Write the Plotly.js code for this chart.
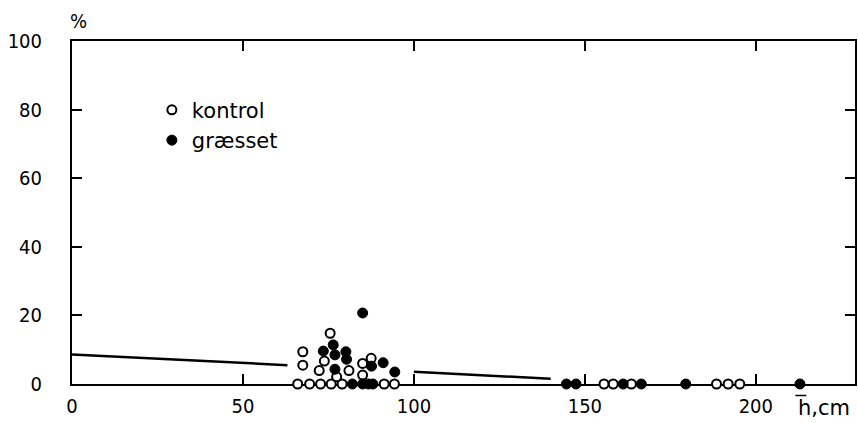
<!DOCTYPE html>
<html>
<head>
<meta charset="utf-8">
<script src="https://cdn.plot.ly/plotly-3.0.1.min.js"></script>
<style>html,body{margin:0;padding:0;background:#fff;}#chart{width:858px;height:423px;}</style>
</head>
<body>
<div id="chart"></div>
<script>
// kontrol (open circles)
const kontrolX = [66, 69.5, 72.7, 75.8, 79, 91.3, 94.3, 67.5, 67.5, 73.8, 72.3, 75.5, 77.4, 81, 85, 85, 87.5, 155.6, 158.3, 163.6, 188.5, 191.9, 195.3];
const kontrolY = [0, 0, 0, 0, 0, 0, 0, 9.4, 5.5, 6.7, 3.9, 14.8, 2.1, 3.9, 6, 2.6, 7.5, 0, 0, 0, 0, 0, 0];
// græsset (filled circles)
const graessetX = [82, 85, 86.7, 88, 85, 73.5, 76.4, 76.9, 80.1, 80.3, 76.9, 87.6, 91, 94.4, 144.6, 147.4, 161.2, 166.5, 179.5, 212.9];
const graessetY = [0, 0, 0, 0, 20.7, 9.6, 11.4, 8.5, 9.4, 7.2, 4.3, 5.2, 6.2, 3.5, 0, 0, 0, 0, 0, 0];
// regression line (drawn in two pieces, interrupted by the point cloud)
const lineX = [0, 63, null, 100, 140];
const lineY = [8.6, 5.5, null, 3.6, 1.5];
const xTicks = [0, 50, 100, 150, 200];
const yTicks = [0, 20, 40, 60, 80, 100];
const legendNames = ['kontrol', 'græsset'];

const tickFont = {family: 'DejaVu Sans Condensed, DejaVu Sans', size: 20, color: '#000'};

const traces = [
  {x: lineX, y: lineY, mode: 'lines', line: {color: '#000', width: 2.5}, showlegend: false, hoverinfo: 'skip'},
  {x: kontrolX, y: kontrolY, mode: 'markers', name: legendNames[0], cliponaxis: false,
   marker: {symbol: 'circle', size: 9, color: '#fff', line: {color: '#000', width: 2}}},
  {x: graessetX, y: graessetY, mode: 'markers', name: legendNames[1], cliponaxis: false,
   marker: {symbol: 'circle', size: 10, color: '#000', line: {color: '#000', width: 1}}}
];

const layout = {
  width: 858, height: 423,
  margin: {l: 72, r: 3, t: 41, b: 39},
  paper_bgcolor: '#fff', plot_bgcolor: '#fff',
  showlegend: true,
  legend: {x: 0.102, y: 0.858, xanchor: 'left', yanchor: 'top', bgcolor: 'rgba(0,0,0,0)',
           font: {family: 'DejaVu Sans', size: 21, color: '#000'}, itemwidth: 30, tracegroupgap: 0},
  xaxis: {range: [0, 229], tickvals: xTicks, ticktext: xTicks.map(String), ticks: 'inside', ticklen: 10, tickwidth: 2,
          tickcolor: '#000', showline: true, linewidth: 2, linecolor: '#000', mirror: 'ticks',
          showgrid: false, zeroline: false, tickfont: tickFont, ticklabelstandoff: 3, layer: 'below traces'},
  yaxis: {range: [0, 100], tickvals: yTicks, ticktext: yTicks.map(String), ticks: 'inside', ticklen: 10, tickwidth: 2,
          tickcolor: '#000', showline: true, linewidth: 2, linecolor: '#000', mirror: 'ticks',
          showgrid: false, zeroline: false, tickfont: tickFont, ticklabelstandoff: 24, layer: 'below traces'},
  annotations: [
    {text: '%', xref: 'paper', yref: 'paper', x: 0, y: 1, xanchor: 'center', yanchor: 'bottom', xshift: 6, yshift: 6,
     showarrow: false, font: tickFont},
    {text: 'h\u0305,cm', xref: 'paper', yref: 'paper', x: 0.921, y: 0, xanchor: 'left', yanchor: 'top', yshift: -8,
     showarrow: false, font: {family: 'DejaVu Sans', size: 21, color: '#000'}}
  ]
};

Plotly.newPlot('chart', traces, layout, {displayModeBar: false, staticPlot: true});
</script>
</body>
</html>
